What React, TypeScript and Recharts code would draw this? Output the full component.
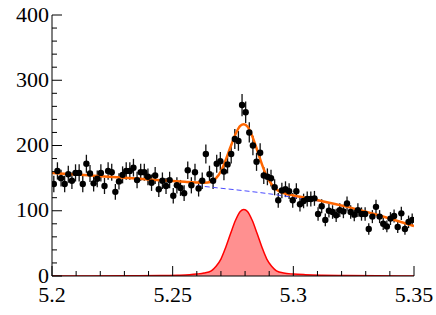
import { Area, ComposedChart, ErrorBar, Line, Scatter, XAxis, YAxis } from 'recharts'

const FONT = "'Liberation Serif', 'DejaVu Serif', serif"

// histogram: 100 bins of 0.0015 from 5.2 to 5.35
const binLow = 5.2
const binWidth = 0.0015
const counts = [
  141, 161, 150, 141, 156, 146, 158, 158, 141, 172,
  157, 142, 149, 158, 138, 161, 159, 129, 145, 155,
  161, 161, 166, 147, 159, 159, 152, 143, 154, 133,
  146, 138, 147, 123, 139, 135, 127, 162, 139, 159,
  134, 146, 187, 156, 146, 172, 176, 160, 171, 187,
  210, 207, 262, 251, 220, 200, 175, 189, 154, 152,
  150, 136, 116, 131, 133, 130, 116, 130, 110, 115,
  118, 118, 119, 95, 107, 86, 100, 98, 93, 101,
  99, 111, 98, 94, 101, 95, 95, 72, 91, 106,
  91, 80, 76, 88, 92, 75, 96, 72, 83, 86,
]
const errors = [
  12.5, 13.3, 12.8, 12.5, 13.1, 12.7, 13.2, 13.2, 12.5, 13.8,
  13.1, 12.5, 12.8, 13.2, 12.3, 13.3, 13.2, 12.0, 12.6, 13.0,
  13.3, 13.3, 13.5, 12.7, 13.2, 13.2, 12.9, 12.6, 13.0, 12.1,
  12.7, 12.3, 12.7, 11.7, 12.4, 12.2, 11.9, 13.3, 12.4, 13.2,
  12.2, 12.7, 14.4, 13.1, 12.7, 13.8, 14.0, 13.2, 13.8, 14.4,
  15.2, 15.1, 17.0, 16.6, 15.5, 14.8, 13.9, 14.4, 13.0, 12.9,
  12.8, 12.3, 11.3, 12.0, 12.1, 12.0, 11.3, 12.0, 11.0, 11.2,
  11.4, 11.4, 11.4, 10.2, 10.8, 9.8, 10.5, 10.4, 10.1, 10.5,
  10.4, 11.0, 10.4, 10.2, 10.5, 10.2, 10.2, 8.9, 10.0, 10.8,
  10.0, 9.4, 9.1, 9.9, 10.1, 9.1, 10.3, 8.9, 9.6, 9.8,
]

// total fit (orange)
const totalX = [5.2, 5.21, 5.22, 5.23, 5.24, 5.25, 5.255, 5.26, 5.263, 5.266, 5.268, 5.27, 5.272, 5.274, 5.276, 5.278, 5.2795, 5.281, 5.283, 5.285, 5.287, 5.289, 5.291, 5.293, 5.296, 5.3, 5.305, 5.312, 5.322, 5.335, 5.35]
const totalY = [158, 155.5, 153, 150.5, 148, 145.5, 144.3, 143.3, 143, 144.5, 150, 160.5, 178, 198, 217, 230, 232.5, 229, 214, 193, 171, 152.5, 140.5, 132.5, 127, 123.5, 119.8, 114.7, 106.3, 93.5, 76.5]

// background (blue dashed)
const bgX = [5.26, 5.27, 5.28, 5.29, 5.3, 5.31, 5.32, 5.33, 5.34, 5.35]
const bgY = [138.5, 134.5, 130.5, 126, 120.5, 115, 107.5, 98.5, 88, 76.5]

// signal (red filled)
const sigX = [5.2, 5.23, 5.245, 5.252, 5.257, 5.26, 5.263, 5.266, 5.268, 5.27, 5.272, 5.274, 5.276, 5.278, 5.2795, 5.281, 5.283, 5.285, 5.287, 5.289, 5.291, 5.293, 5.296, 5.3, 5.305, 5.312, 5.322, 5.335, 5.35]
const sigY = [0, 0.2, 0.6, 1.2, 2, 3, 4.5, 8, 15, 26, 44, 65, 85, 99, 102, 99, 85, 65, 44, 26, 15, 8, 4.5, 3, 2, 1.2, 0.6, 0.2, 0]

const xTicks = [5.2, 5.21, 5.22, 5.23, 5.24, 5.25, 5.26, 5.27, 5.28, 5.29, 5.3, 5.31, 5.32, 5.33, 5.34, 5.35]
const xMajor = [5.2, 5.25, 5.3, 5.35]
const xLabels = ['5.2', '5.25', '5.3', '5.35']
const yTicks = [0, 20, 40, 60, 80, 100, 120, 140, 160, 180, 200, 220, 240, 260, 280, 300, 320, 340, 360, 380, 400]
const yMajor = [0, 100, 200, 300, 400]
const yLabels = ['0', '100', '200', '300', '400']

const points = counts.map((y, i) => ({ x: binLow + binWidth * (i + 0.5), y, err: errors[i] }))
const totalFit = totalX.map((x, i) => ({ x, y: totalY[i] }))
const background = bgX.map((x, i) => ({ x, y: bgY[i] }))
const signal = sigX.map((x, i) => ({ x, y: sigY[i] }))

const majorIdx = (list: number[], v: number) => list.findIndex((m) => Math.abs(m - v) < 1e-6)

const labelStyle = { fontFamily: FONT, fontSize: 22 }

function BottomTick(props: any) {
  const { x, y, payload } = props
  const axisY = y - 8
  const k = majorIdx(xMajor, payload.value)
  return (
    <g>
      <line x1={x} x2={x} y1={axisY} y2={axisY - (k >= 0 ? 10 : 5)} stroke="#000" />
      {k >= 0 && (
        <text x={x} y={axisY + 26} textAnchor="middle" style={labelStyle} fill="#000">
          {xLabels[k]}
        </text>
      )}
    </g>
  )
}

function TopTick(props: any) {
  const { x, y, payload } = props
  const axisY = y + 8
  const k = majorIdx(xMajor, payload.value)
  return <line x1={x} x2={x} y1={axisY} y2={axisY + (k >= 0 ? 10 : 5)} stroke="#000" />
}

function LeftTick(props: any) {
  const { x, y, payload } = props
  const axisX = x + 8
  const k = majorIdx(yMajor, payload.value)
  return (
    <g>
      <line x1={axisX} x2={axisX + (k >= 0 ? 10 : 5)} y1={y} y2={y} stroke="#000" />
      {k >= 0 && (
        <text x={axisX - 3} y={y + 6.5} textAnchor="end" style={labelStyle} fill="#000">
          {yLabels[k]}
        </text>
      )}
    </g>
  )
}

function RightTick(props: any) {
  const { x, y, payload } = props
  const axisX = x - 8
  const k = majorIdx(yMajor, payload.value)
  return <line x1={axisX} x2={axisX - (k >= 0 ? 10 : 5)} y1={y} y2={y} stroke="#000" />
}

const Dot = (props: any) => <circle cx={props.cx} cy={props.cy} r={3.2} fill="#000" />

export default function App() {
  return (
    <div style={{ position: 'absolute', left: 0, top: 0, background: '#fff', fontFamily: FONT }}>
      <ComposedChart width={436} height={315} margin={{ top: 15, right: 22, bottom: 0, left: 0 }}>
        <XAxis
          xAxisId="x"
          type="number"
          dataKey="x"
          domain={[5.2, 5.35]}
          allowDataOverflow
          ticks={xTicks}
          interval={0}
          height={39}
          tickSize={6}
          tickMargin={2}
          tickLine={false}
          tick={<BottomTick />}
          axisLine={{ stroke: '#000' }}
        />
        <XAxis
          xAxisId="top"
          orientation="top"
          type="number"
          domain={[5.2, 5.35]}
          allowDataOverflow
          ticks={xTicks}
          interval={0}
          height={0}
          tickSize={6}
          tickMargin={2}
          tickLine={false}
          tick={<TopTick />}
          axisLine={{ stroke: '#000' }}
        />
        <YAxis
          yAxisId="y"
          type="number"
          dataKey="y"
          domain={[0, 400]}
          allowDataOverflow
          ticks={yTicks}
          interval={0}
          width={52}
          tickSize={6}
          tickMargin={2}
          tickLine={false}
          tick={<LeftTick />}
          axisLine={{ stroke: '#000' }}
        />
        <YAxis
          yAxisId="right"
          orientation="right"
          type="number"
          domain={[0, 400]}
          allowDataOverflow
          ticks={yTicks}
          interval={0}
          width={0}
          tickSize={6}
          tickMargin={2}
          tickLine={false}
          tick={<RightTick />}
          axisLine={{ stroke: '#000' }}
        />
        <Area
          xAxisId="x"
          yAxisId="y"
          data={signal}
          dataKey="y"
          type="monotone"
          fill="#ff9090"
          fillOpacity={1}
          stroke="#ff0000"
          strokeWidth={1.5}
          dot={false}
          activeDot={false}
          isAnimationActive={false}
        />
        <Scatter
          xAxisId="x"
          yAxisId="y"
          data={points}
          dataKey="y"
          shape={Dot}
          isAnimationActive={false}
        >
          <ErrorBar dataKey="err" direction="y" width={0} stroke="#111" strokeWidth={1.3} />
        </Scatter>
        <Line
          xAxisId="x"
          yAxisId="y"
          data={background}
          dataKey="y"
          type="monotone"
          stroke="#4d4dff"
          strokeWidth={1}
          strokeDasharray="5 3"
          dot={false}
          activeDot={false}
          isAnimationActive={false}
        />
        <Line
          xAxisId="x"
          yAxisId="y"
          data={totalFit}
          dataKey="y"
          type="monotone"
          stroke="#ff6600"
          strokeWidth={2.5}
          dot={false}
          activeDot={false}
          isAnimationActive={false}
        />
      </ComposedChart>
    </div>
  )
}
